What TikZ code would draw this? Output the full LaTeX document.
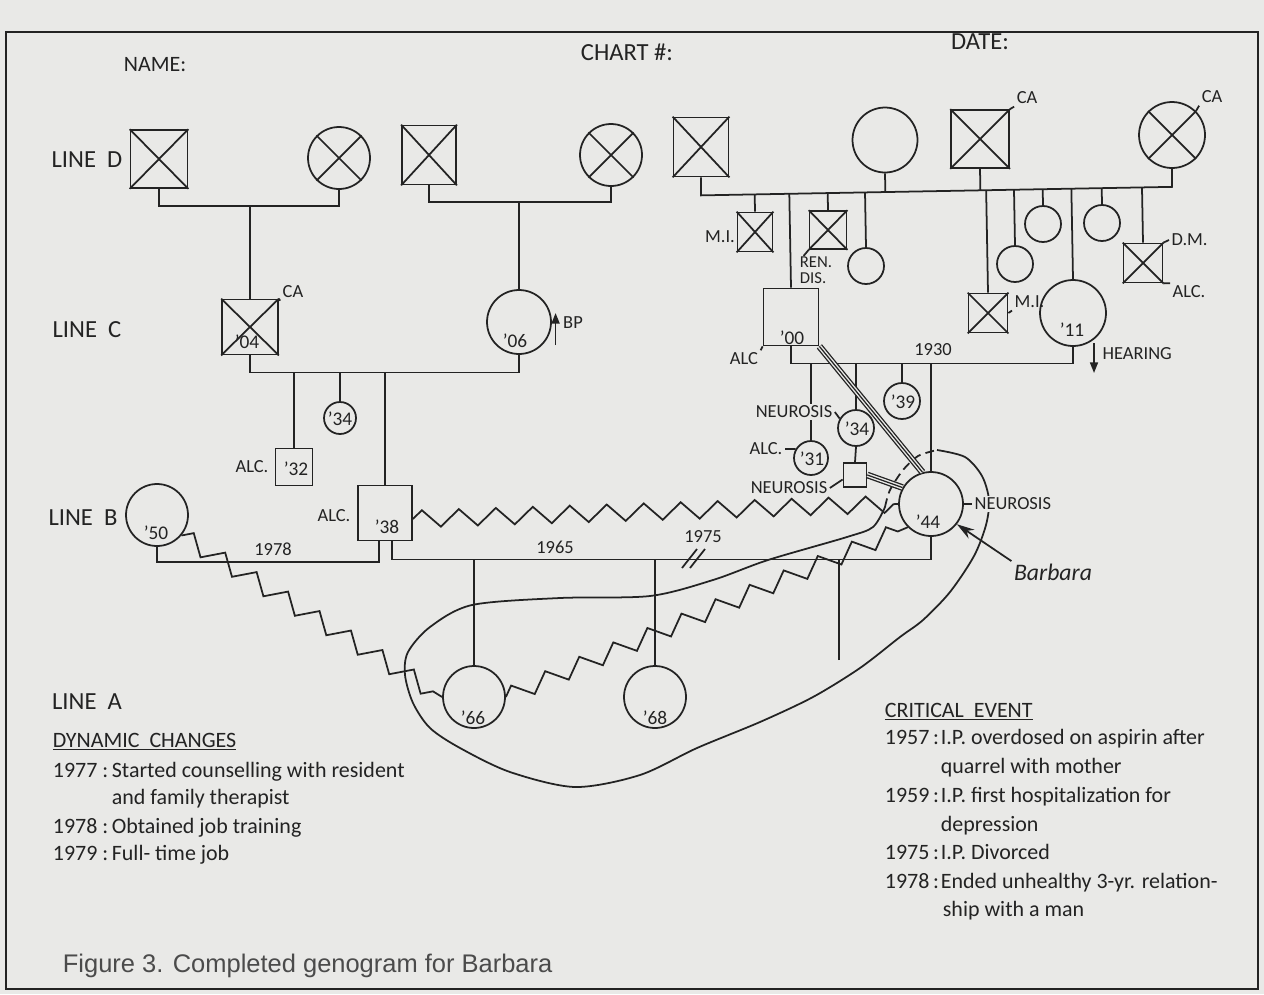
\documentclass[tikz,border=0pt]{standalone}
\usepackage{fontspec}
\setmainfont{Carlito}
\newfontfamily\capfont{Liberation Sans}
\usetikzlibrary{calc,decorations.pathmorphing,arrows.meta}
\definecolor{bg}{RGB}{233,233,231}
\definecolor{ink}{RGB}{35,35,35}
\definecolor{capc}{RGB}{75,75,75}
\newcommand\Xout[1]{\draw (#1.north west) -- (#1.south east) (#1.north east) -- (#1.south west);}
\begin{document}
\begin{tikzpicture}[x=0.02cm,y=-0.02cm,line width=1pt,color=ink,
  sq/.style={draw,rectangle,inner sep=0pt},
  ci/.style={draw,circle,inner sep=0pt},
  lab/.style={font=\fontsize{10.5}{10}\selectfont,inner sep=1pt},
  big/.style={font=\fontsize{14}{15}\selectfont,inner sep=1pt},
  yr/.style={font=\fontsize{11}{12}\selectfont,inner sep=0pt},
  txt/.style={font=\fontsize{12.5}{15}\selectfont,anchor=base west,inner sep=0pt},
  zz/.style={decorate,decoration={zigzag,segment length=0.74cm,amplitude=0.17cm}},
  trip/.style={line width=3.8pt,postaction={draw=bg,line width=2.3pt},postaction={draw=ink,line width=0.7pt}},
  arr/.style={-{Triangle[length=6pt,width=4.5pt]}}]
\fill[bg] (0,0) rectangle (1264,994);
\draw[line width=1.2pt] (6,32) rectangle (1258,989);

% header and line labels
\node[big,font=\fontsize{12.5}{15}\selectfont] (name) at (155,65) {NAME:};
\node[big] (chart) at (627,52) {CHART \#:};
\node[big] (date) at (980,42) {DATE:};
\node[big] (lD) at (87,160) {LINE\ \ D};
\node[big] (lC) at (87,330) {LINE\ \ C};
\node[big] (lB) at (83,518) {LINE\ \ B};
\node[big] (lA) at (87,702) {LINE\ \ A};

% Line D
\node[sq,minimum width=1.14cm,minimum height=1.16cm] (d1) at (159,159) {}; \Xout{d1}
\node[ci,minimum size=1.24cm] (d2) at (339,158) {}; \Xout{d2}
\node[sq,minimum width=1.08cm,minimum height=1.18cm] (d3) at (429,155) {}; \Xout{d3}
\node[ci,minimum size=1.24cm] (d4) at (611,155) {}; \Xout{d4}
\node[sq,minimum width=1.1cm,minimum height=1.18cm] (d5) at (701,147) {}; \Xout{d5}
\node[ci,minimum size=1.3cm] (d6) at (885,140) {};
\node[sq,minimum size=1.16cm] (d7) at (980,139) {}; \Xout{d7}
\node[ci,minimum size=1.32cm] (d8) at (1172,135) {}; \Xout{d8}
\node[lab] (ca7) at (1027,98) {CA};
\node[lab] (ca8) at (1212,97) {CA};
\draw (d7.north east) -- (ca7.south west);
\draw (d8.north east) -- (ca8.south west);

% Line C left
\node[sq,minimum width=1.12cm,minimum height=1.1cm] (c1) at (250,327) {}; \Xout{c1}
\node[yr] (t04) at (247,342) {'04};
\node[lab] (ca1) at (293,292) {CA};
\draw (c1.north east) -- (ca1.south west);
\node[ci,minimum size=1.28cm] (c2) at (519,322) {};
\node[yr] (t06) at (515,341) {'06};
\node[lab] (bp) at (573,323) {BP};
\draw[arr] ($(bp.west)+(-5,22)$) -- ($(bp.west)+(-5,-10)$);

\draw (d1.south) -- ++(0,17) coordinate (k1) -| (d2.south);
\draw (c1.north) -- (c1.north |- k1);
\draw (d3.south) -- ++(0,17) coordinate (k2) -| (d4.south);
\draw (c2.north) -- (c2.north |- k2);

% children of '04 / '06
\node[sq,minimum size=0.74cm] (b32) at (294,467) {};
\node[yr] (t32) at (296,469) {'32};
\node[lab] (a32) at (252,467) {ALC.};
\node[ci,minimum size=0.64cm] (g34) at (340,418) {};
\node[yr] (t34) at (340,419) {'34};
\node[sq,minimum width=1.08cm,minimum height=1.1cm] (h38) at (385,513) {};
\node[yr] (t38) at (387,527) {'38};
\node[lab] (a38) at (334,516) {ALC.};
\draw (c1.south) -- ++(0,17) coordinate (k3) -| (c2.south);
\draw (b32.north) -- (b32.north |- k3);
\draw (g34.north) -- (g34.north |- k3);
\draw (h38.north) -- (h38.north |- k3);

% Line D right sibship
\draw (d5.south) -- ++(0,18) coordinate (sA) -- ($(d8.south)+(0,18)$) coordinate (sB) -- (d8.south);
\draw (d6.south) -- ($(sA)!(d6.south)!(sB)$);
\draw (d7.south) -- ($(sA)!(d7.south)!(sB)$);

\node[sq,minimum width=0.7cm,minimum height=0.78cm] (mi1) at (755,232) {}; \Xout{mi1}
\node[lab] (lmi1) at (720,237) {M.I.};
\node[sq,minimum width=0.74cm,minimum height=0.76cm] (rd) at (828,230) {}; \Xout{rd}
\node[lab,anchor=west,inner sep=0pt,font=\fontsize{9.5}{9}\selectfont] (lrd1) at (799,262) {REN.};
\node[lab,anchor=west,inner sep=0pt,font=\fontsize{9.5}{9}\selectfont] (lrd2) at (799,278) {DIS.};
\draw (rd.south west) -- ++(-5,6);
\node[ci,minimum size=0.72cm] (sc1) at (866,266) {};
\node[sq,minimum width=1.1cm,minimum height=1.14cm] (c3) at (791,317) {};
\node[yr] (t00) at (792,338) {'00};
\node[lab] (lalc0) at (744,359) {ALC};
\draw (c3.south west) -- (lalc0.north east);
\node[sq,minimum size=0.78cm] (c5) at (988,313) {}; \Xout{c5}
\node[lab,anchor=west] (lmi5) at (1012,302) {M.I.};
\draw (c5.east) -- (lmi5.south west);
\node[ci,minimum size=0.72cm] (sc2) at (1015,264) {};
\node[ci,minimum size=0.72cm] (sc3) at (1043,224) {};
\node[ci,minimum size=1.32cm] (c4) at (1073,313) {};
\node[yr] (t11) at (1072,330) {'11};
\node[ci,minimum size=0.72cm] (sc4) at (1102,223) {};
\node[sq,minimum size=0.78cm] (dm) at (1143,263) {}; \Xout{dm}
\node[lab,anchor=west] (ldm) at (1169,240) {D.M.};
\node[lab,anchor=west] (lalcdm) at (1170,292) {ALC.};
\draw (dm.north east) -- (ldm.west);
\draw (dm.south east) -- (lalcdm.north west);
\foreach \n in {mi1,rd,sc1,c3,c5,sc2,sc3,c4,sc4,dm}
  \draw (\n.north) -- ($(sA)!(\n.north)!(sB)$);

% Line C right couple
\draw (c3.south) -- ++(0,17) coordinate (k4) -| (c4.south);
\node[lab] (y1930) at (933,350) {1930};
\node[lab,anchor=west] (hear) at (1100,354) {HEARING};
\draw[arr] ($(hear.west)+(-6,-11)$) -- ($(hear.west)+(-6,19)$);

\node[ci,minimum size=0.68cm] (g31) at (811,458) {};
\node[yr] (t31) at (812,459) {'31};
\node[ci,minimum size=0.72cm] (g34b) at (856,428) {};
\node[yr] (t34b) at (857,429) {'34};
\node[sq,minimum width=0.46cm,minimum height=0.48cm] (sq2) at (855,475) {};
\node[ci,minimum size=0.72cm] (g39) at (902,401) {};
\node[yr] (t39) at (903,402) {'39};
\node[ci,minimum size=1.28cm] (barb) at (931,504) {};
\node[yr] (t44) at (928,522) {'44};
\draw (g31.north) -- (g31.north |- k4);
\draw (g34b.north) -- (g34b.north |- k4);
\draw (g34b.south) -- (sq2.north);
\draw (g39.north) -- (g39.north |- k4);
\draw (barb.north) -- (barb.north |- k4);

% Line B
\node[ci,minimum size=1.24cm] (b50) at (157,515) {};
\node[yr] (t50) at (156,533) {'50};
\draw (b50.south) -- ++(0,15) coordinate (k5) -| ($(h38.south)+(-6,0)$);
\node[lab] (y1978) at (273,549) {1978};
\draw ($(h38.south)+(7,0)$) -- ++(0,18) coordinate (k6) -| (barb.south);
\node[lab] (y1965) at (555,547) {1965};
\node[lab] (y1975) at (703,537) {1975};
\draw (682,568) -- (697,549) (690,568) -- (705,549);

\node[ci,minimum size=1.24cm] (g66) at (474,697) {};
\node[yr] (t66) at (473,718) {'66};
\node[ci,minimum size=1.24cm] (g68) at (655,697) {};
\node[yr] (t68) at (655,718) {'68};
\draw (g66.north) -- (g66.north |- k6);
\draw (g68.north) -- (g68.north |- k6);
\coordinate (preg) at (839,660);
\draw (preg) -- (preg |- k6);

% zigzags
\draw[zz] ($(h38.east)+(0,6)$) -- (barb.west);
\draw[zz] (b50.-40) -- (g66.west);
\draw[zz] (g66.east) -- (barb.225);

% household loop
\draw plot[smooth] coordinates {(937,450) (965,457) (982,476) (989,500) (986,525) (974,556) (950,592) (923,620) (900,637) (860,668) (813,697) (760,722) (697,748) (640,775) (575,787) (510,772) (460,748) (430,728) (413,703) (405,675) (408,652) (430,627) (472,605) (560,598) (650,596) (713,580) (768,560) (847,537) (873,527) (885,507)};
\draw[dash pattern=on 5pt off 3pt] plot[smooth] coordinates {(885,507) (890,490) (903,470) (918,456) (937,450)};

% labels near Barbara (drawn over the loop)
\node[lab,fill=bg] (ln1) at (794,412) {NEUROSIS};
\draw (ln1.east) -- (g34b.150);
\node[lab] (la31) at (766,449) {ALC.};
\draw (la31.east) -- (g31.150);
\node[lab] (ln2) at (789,488) {NEUROSIS};
\draw (ln2.east) -- (sq2.200);
\node[lab,anchor=west,fill=bg] (lnb) at (972,504) {NEUROSIS};
\draw (barb.east) -- (lnb.west);
\node[font=\fontsize{13.5}{15}\selectfont\itshape,inner sep=1pt] (bname) at (1053,572) {Barbara};
\draw[-{Stealth[length=10pt,width=6pt]}] (bname.north west) -- (barb.-38);

\draw[trip] (c3.south east) -- (barb.105);
\draw[trip] (sq2.east) -- (barb.150);

% text blocks
\node[txt] (dyn) at (52,747) {\underline{DYNAMIC\ \ CHANGES}};
\node[txt] (y77) at (52,777) {1977 :};
\node[txt] (t77) at (111,777) {Started counselling with resident};
\node[txt] (t77b) at (111,804) {and family therapist};
\node[txt] (y78) at (52,833) {1978 :};
\node[txt] (t78) at (111,833) {Obtained job training};
\node[txt] (y79) at (52,860) {1979 :};
\node[txt] (t79) at (111,860) {Full- time job};

\node[txt] (crit) at (884,717) {\underline{CRITICAL\ \ EVENT}};
\node[txt] (y57) at (884,744) {1957\,:};
\node[txt] (t57) at (940,744) {I.P. overdosed on aspirin after};
\node[txt] (t57b) at (940,773) {quarrel with mother};
\node[txt] (y59) at (884,802) {1959\,:};
\node[txt] (t59) at (940,802) {I.P. first hospitalization for};
\node[txt] (t59b) at (940,831) {depression};
\node[txt] (y75) at (884,859) {1975\,:};
\node[txt] (t75) at (940,859) {I.P. Divorced};
\node[txt] (y78b) at (884,888) {1978\,:};
\node[txt] (t78b) at (940,888) {Ended unhealthy 3-yr. relation-};
\node[txt] (t78c) at (942,916) {ship with a man};

\node[anchor=base west,inner sep=0pt,text=capc,font=\capfont\fontsize{14.5}{16}\selectfont] (cap) at (62,972) {Figure 3. Completed genogram for Barbara};
\end{tikzpicture}
\end{document}
